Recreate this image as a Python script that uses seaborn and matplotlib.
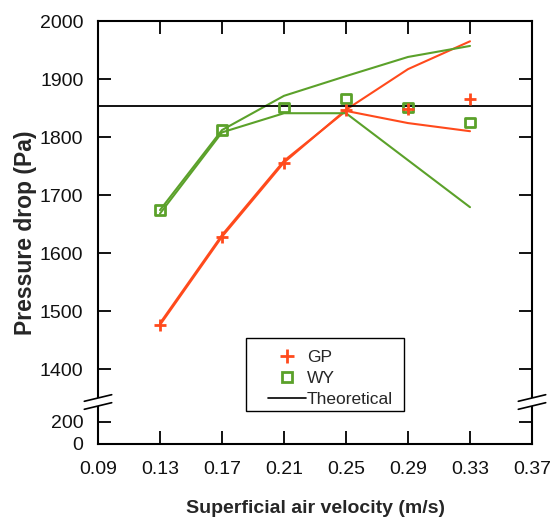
import numpy as np
import pandas as pd
import matplotlib
matplotlib.use("Agg")
import matplotlib.pyplot as plt
from matplotlib.lines import Line2D
from matplotlib.patches import Rectangle
import seaborn as sns

# ---- data ----
velocity = [0.13, 0.17, 0.21, 0.25, 0.29, 0.33]
gp_measured = [1476, 1628, 1756, 1847, 1849, 1866]
wy_measured = [1674, 1812, 1851, 1866, 1851, 1825]
gp_model_a = [1476, 1628, 1756, 1847, 1917, 1965]
gp_model_b = [1479, 1631, 1759, 1845, 1824, 1810]
wy_model_a = [1674, 1812, 1871, 1905, 1938, 1957]
wy_model_b = [1668, 1808, 1841, 1841, 1760, 1679]
theoretical = 1853
x_ticks = [0.09, 0.13, 0.17, 0.21, 0.25, 0.29, 0.33, 0.37]
y_ticks = [0, 200, 1400, 1500, 1600, 1700, 1800, 1900, 2000]

RED = "#FF4A1C"
GREEN = "#5BA12A"

sns.set_theme(style="ticks")
plt.rcParams['font.family'] = ['Liberation Sans', 'DejaVu Sans']

fig = plt.figure(figsize=(5.54, 5.21), dpi=100)
ax = fig.add_axes([98 / 554, 77 / 521, 434 / 554, 423 / 521])

# broken-axis scale: lower part 0-380 compressed, upper part 1345-2000
_v = np.array([-1e4, 0, 380, 1345, 1e4])
_t = np.array([-1100, 0, 41.8, 43.1, 75 + (1e4 - 1400) * 0.58])


def fwd(v):
    return np.interp(v, _v, _t)


def inv(t):
    return np.interp(t, _t, _v)


ax.set_yscale('function', functions=(fwd, inv))

df_lines = pd.DataFrame({
    "v": velocity * 4,
    "p": gp_model_a + gp_model_b + wy_model_a + wy_model_b,
    "s": ["ga"] * 6 + ["gb"] * 6 + ["wa"] * 6 + ["wb"] * 6,
})
sns.lineplot(data=df_lines, x="v", y="p", hue="s",
             palette={"ga": RED, "gb": RED, "wa": GREEN, "wb": GREEN},
             estimator=None, sort=False, lw=1.5, legend=False, ax=ax)

ax.axhline(theoretical, color="black", lw=1.3, zorder=3)

sns.scatterplot(x=velocity, y=wy_measured, marker="s", s=45,
                facecolors="none", edgecolor=GREEN, linewidth=2.0,
                ax=ax, zorder=4, legend=False)
sns.scatterplot(x=velocity, y=gp_measured, marker="+", s=85,
                color=RED, linewidth=2.0, ax=ax, zorder=5, legend=False)

ax.set_xlim(0.09, 0.37)
ax.set_ylim(0, 2000)
ax.set_xticks(x_ticks)
ax.set_xticklabels([f"{t:.2f}" for t in x_ticks])
ax.set_yticks(y_ticks)
ax.set_yticklabels([str(t) for t in y_ticks])
ax.minorticks_off()

for sp in ax.spines.values():
    sp.set_linewidth(1.5)
    sp.set_color("black")
ax.tick_params(axis="both", which="major", direction="in", length=9.5,
               width=1.3, color="black", labelsize=14,
               top=True, right=True, labelcolor="#111111")
ax.tick_params(axis="x", pad=12)
ax.tick_params(axis="y", pad=10.5)

ax.set_xlabel("Superficial air velocity (m/s)", fontsize=14,
              fontweight="bold", labelpad=16)
ax.set_ylabel("Pressure drop (Pa)", fontsize=16.5, fontweight="bold",
              labelpad=2)

# break marks
brk = 42 / 423
dy_gap = 4 / 423
for xs in (0.0, 1.0):
    ax.plot([xs, xs], [brk - dy_gap, brk + dy_gap], transform=ax.transAxes,
            color="white", lw=4, clip_on=False, zorder=10,
            solid_capstyle="butt")
    for off in (-dy_gap, dy_gap):
        ax.plot([xs - 13.7 / 434, xs + 13.7 / 434],
                [brk + off - 3.3 / 423, brk + off + 3.3 / 423],
                transform=ax.transAxes, color="black", lw=1.2,
                clip_on=False, zorder=11)

handles = [
    Line2D([], [], ls="none", marker="+", color=RED, markersize=10, mew=2),
    Line2D([], [], ls="none", marker="s", mfc="none", mec=GREEN,
           markersize=6.5, mew=2),
    Line2D([], [], color="black", lw=1.2),
]
leg = ax.legend(handles, ["GP", "WY", "Theoretical"], loc="upper left",
                bbox_to_anchor=(0.3917, 0.2215), fontsize=12.5, frameon=False,
                handlelength=2.2, handletextpad=0.05,
                labelspacing=0.32, borderpad=0, borderaxespad=0)
ax.add_patch(Rectangle((148 / 434, 33 / 423), 158 / 434, 73 / 423,
                       transform=ax.transAxes, fill=False, ec="black",
                       lw=1.0, zorder=6))

fig.savefig("out.png", dpi=100, facecolor="white")
